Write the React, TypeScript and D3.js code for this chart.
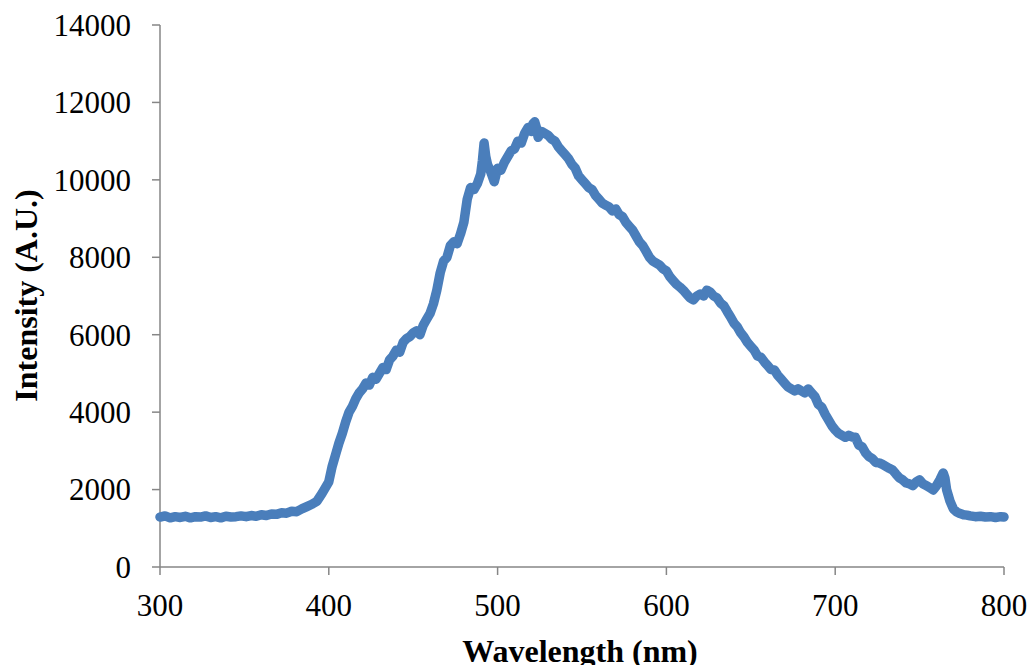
import React from "react";
import * as d3 from "d3";

const wavelengths: number[] = [
  300, 303, 306, 309, 312, 315, 318, 321, 324, 327, 330, 333, 336, 339, 342, 345, 348, 351, 354, 357,
  360, 363, 366, 369, 372, 375, 378, 381, 384, 387, 390, 393, 396, 398, 400, 402, 404, 406, 408, 410,
  412, 414, 416, 418, 420, 422, 424, 426, 428, 430, 432, 434, 436, 438, 440, 442, 444, 446, 448, 450,
  452, 454, 456, 458, 460, 462, 464, 466, 468, 470, 472, 474, 476, 478, 480, 482, 484, 486, 488, 490,
  491, 492, 493, 494, 496, 498, 500, 502, 504, 506, 508, 510, 512, 514, 516, 518, 520, 521, 522, 523,
  524, 526, 528, 530, 532, 534, 536, 538, 540, 542, 544, 546, 548, 550, 552, 554, 556, 558, 560, 562,
  564, 566, 568, 570, 572, 574, 576, 578, 580, 582, 584, 586, 588, 590, 592, 594, 596, 598, 600, 602,
  604, 606, 608, 610, 612, 614, 616, 618, 620, 622, 624, 626, 628, 630, 632, 634, 636, 638, 640, 642,
  644, 646, 648, 650, 652, 654, 656, 658, 660, 662, 664, 666, 668, 670, 672, 674, 676, 678, 680, 682,
  684, 686, 688, 690, 692, 694, 696, 698, 700, 702, 704, 706, 708, 710, 712, 714, 716, 718, 720, 722,
  724, 726, 728, 730, 732, 734, 736, 738, 740, 742, 744, 746, 748, 750, 752, 754, 756, 758, 760, 762,
  764, 765, 766, 768, 770, 772, 774, 776, 778, 780, 783, 786, 789, 792, 795, 798, 800,
];

const intensities: number[] = [
  1290, 1320, 1270, 1300, 1280, 1310, 1270, 1300, 1290, 1320, 1280, 1300, 1270, 1310, 1290, 1300, 1320, 1300, 1330, 1310,
  1350, 1330, 1370, 1360, 1400, 1390, 1440, 1430, 1500, 1560, 1620, 1700, 1900, 2050, 2200, 2600, 2900, 3200, 3450, 3750,
  4000, 4150, 4350, 4500, 4600, 4750, 4700, 4900, 4850, 5000, 5150, 5100, 5350, 5450, 5600, 5550, 5800, 5900, 5950, 6050,
  6100, 6000, 6250, 6400, 6550, 6800, 7150, 7600, 7900, 8000, 8300, 8400, 8350, 8600, 8900, 9500, 9800, 9750, 9900, 10150,
  10500, 10950, 10600, 10400, 10200, 9950, 10300, 10250, 10450, 10600, 10750, 10800, 11000, 10950, 11200, 11350, 11250, 11450, 11500, 11350,
  11100, 11250, 11200, 11150, 11050, 11000, 10850, 10750, 10650, 10550, 10400, 10300, 10100, 10000, 9900, 9800, 9750, 9600, 9500, 9400,
  9350, 9300, 9200, 9250, 9100, 9050, 8900, 8800, 8700, 8550, 8400, 8300, 8150, 8000, 7900, 7850, 7800, 7700, 7650, 7500,
  7400, 7300, 7230, 7150, 7050, 6950, 6900, 7000, 7050, 7000, 7150, 7100, 7000, 6950, 6820, 6750, 6600, 6460, 6300, 6200,
  6050, 5940, 5800, 5700, 5600, 5450, 5420, 5300, 5200, 5100, 5090, 4950, 4850, 4750, 4650, 4600, 4550, 4600, 4550, 4500,
  4600, 4500, 4400, 4200, 4130, 3950, 3800, 3650, 3540, 3450, 3400, 3350, 3400, 3360, 3350, 3150, 3100, 2950, 2850, 2800,
  2700, 2690, 2650, 2600, 2550, 2505, 2400, 2300, 2250, 2170, 2150, 2100, 2200, 2250, 2150, 2100, 2050, 1990, 2100, 2250,
  2430, 2300, 2000, 1700, 1500, 1420, 1380, 1350, 1340, 1320, 1300, 1310, 1290, 1300, 1280, 1300, 1290,
];

const xTicks: number[] = [300, 400, 500, 600, 700, 800];
const yTicks: number[] = [0, 2000, 4000, 6000, 8000, 10000, 12000, 14000];

const xTitle = "Wavelength (nm)";
const yTitle = "Intensity (A.U.)";

export default function App() {
  const W = 1036;
  const H = 665;
  const left = 160;
  const right = 1004;
  const top = 25;
  const bottom = 567;

  const x = d3.scaleLinear().domain([300, 800]).range([left, right]);
  const y = d3.scaleLinear().domain([0, 14000]).range([bottom, top]);

  const pts: [number, number][] = wavelengths.map((w, i) => [w, intensities[i]]);
  const line = d3
    .line<[number, number]>()
    .x((d) => x(d[0]))
    .y((d) => y(d[1]));

  const axisColor = "#868686";
  const font = "'Liberation Serif', 'Times New Roman', serif";

  return (
    <svg
      width={W}
      height={H}
      style={{ position: "absolute", left: 0, top: 0, background: "#fff" }}
    >
      <rect x={0} y={0} width={W} height={H} fill="#fff" />
      <line x1={left} x2={left} y1={top} y2={bottom} stroke={axisColor} strokeWidth={1.5} />
      <line x1={left} x2={right} y1={bottom} y2={bottom} stroke={axisColor} strokeWidth={1.5} />
      {yTicks.map((t) => (
        <g key={"y" + t}>
          <line x1={left - 8} x2={left} y1={y(t)} y2={y(t)} stroke={axisColor} strokeWidth={1.5} />
          <text
            x={left - 29}
            y={y(t)}
            dy="0.35em"
            textAnchor="end"
            fontFamily={font}
            fontSize={31}
            fill="#000"
          >
            {t}
          </text>
        </g>
      ))}
      {xTicks.map((t) => (
        <g key={"x" + t}>
          <line x1={x(t)} x2={x(t)} y1={bottom} y2={bottom + 8} stroke={axisColor} strokeWidth={1.5} />
          <text
            x={x(t)}
            y={bottom + 49}
            textAnchor="middle"
            fontFamily={font}
            fontSize={31}
            fill="#000"
          >
            {t}
          </text>
        </g>
      ))}
      <path
        d={line(pts) || ""}
        fill="none"
        stroke="#4A7EBB"
        strokeWidth={9.5}
        strokeLinejoin="round"
        strokeLinecap="round"
      />
      <text
        x={580}
        y={662}
        textAnchor="middle"
        fontFamily={font}
        fontSize={32}
        fontWeight="bold"
        fill="#000"
      >
        {xTitle}
      </text>
      <text
        transform={`translate(37, ${(188 + 403) / 2}) rotate(-90)`}
        textAnchor="middle"
        fontFamily={font}
        fontSize={32}
        fontWeight="bold"
        fill="#000"
      >
        {yTitle}
      </text>
    </svg>
  );
}
